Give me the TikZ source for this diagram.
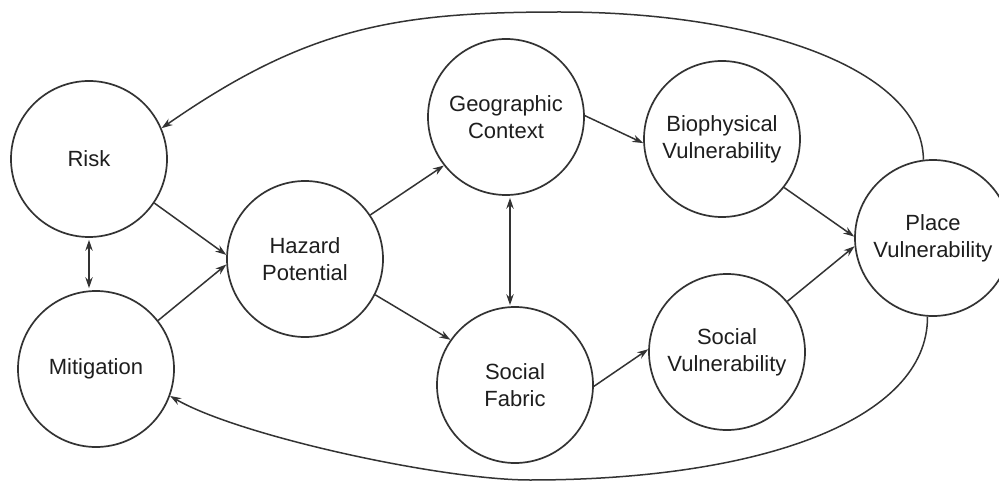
\documentclass[tikz,border=0pt]{standalone}
\usepackage{fontspec}
\setmainfont{Liberation Sans}
\usetikzlibrary{arrows.meta}
\definecolor{linegray}{HTML}{333333}
\definecolor{textgray}{HTML}{1E1E1E}
\begin{document}
\begin{tikzpicture}[x=1pt,y=-1pt,
  concept/.style={circle, draw=linegray, line width=1.7pt, minimum size=156pt,
    inner sep=0pt, align=center, font=\fontsize{22}{27}\selectfont, text=textgray},
  tip/.tip={Stealth[length=11pt,width=7.5pt]},
  link/.style={draw=linegray, line width=1.5pt, -tip},
  twoway/.style={draw=linegray, line width=1.5pt, tip-tip}]

% canvas
\fill[white] (0,0) rectangle (999,484);
\useasboundingbox (0,0) rectangle (999,484);

% concepts
\node[concept] (risk)   at (89,159)  {Risk};
\node[concept] (mitig)  at (96,369)  {Mitigation};
\node[concept] (hazard) at (305,259) {Hazard\\Potential};
\node[concept] (geo)    at (506,117) {Geographic\\Context};
\node[concept] (fabric) at (515,385) {Social\\Fabric};
\node[concept] (bio)    at (722,139) {Biophysical\\Vulnerability};
\node[concept] (socvul) at (727,352) {Social\\Vulnerability};
\node[concept] (place)  at (933,238) {Place\\Vulnerability};

% straight links
\draw[link] (risk.-34) -- (hazard.177);
\draw[link] (mitig.38) -- (hazard.184);
\draw[twoway, shorten <=2pt, shorten >=2pt] (risk.south) -- (risk.south |- mitig.north);
\draw[link] (hazard.34) -- (geo.218);
\draw[link] (hazard.-27) -- (fabric.145);
\draw[twoway, shorten <=2pt, shorten >=1pt] ([xshift=4pt]geo.south) -- ([xshift=-5pt]fabric.north);
\draw[link] (geo.1) -- (bio.183);
\draw[link] (fabric.-1) -- (socvul.178);
\draw[link] (bio.-38) -- (place.179);
\draw[link] (socvul.40) -- (place.186);

% feedback loops
\draw[link] (place.97) .. controls (923,70) and (760,12) .. (560,12)
  .. controls (396,12) and (307,27) .. (risk.23);
\draw[link] (place.-94) .. controls (928,420) and (760,480) .. (530,480)
  .. controls (442,480) and (239,436) .. (mitig.-20);
\end{tikzpicture}
\end{document}
